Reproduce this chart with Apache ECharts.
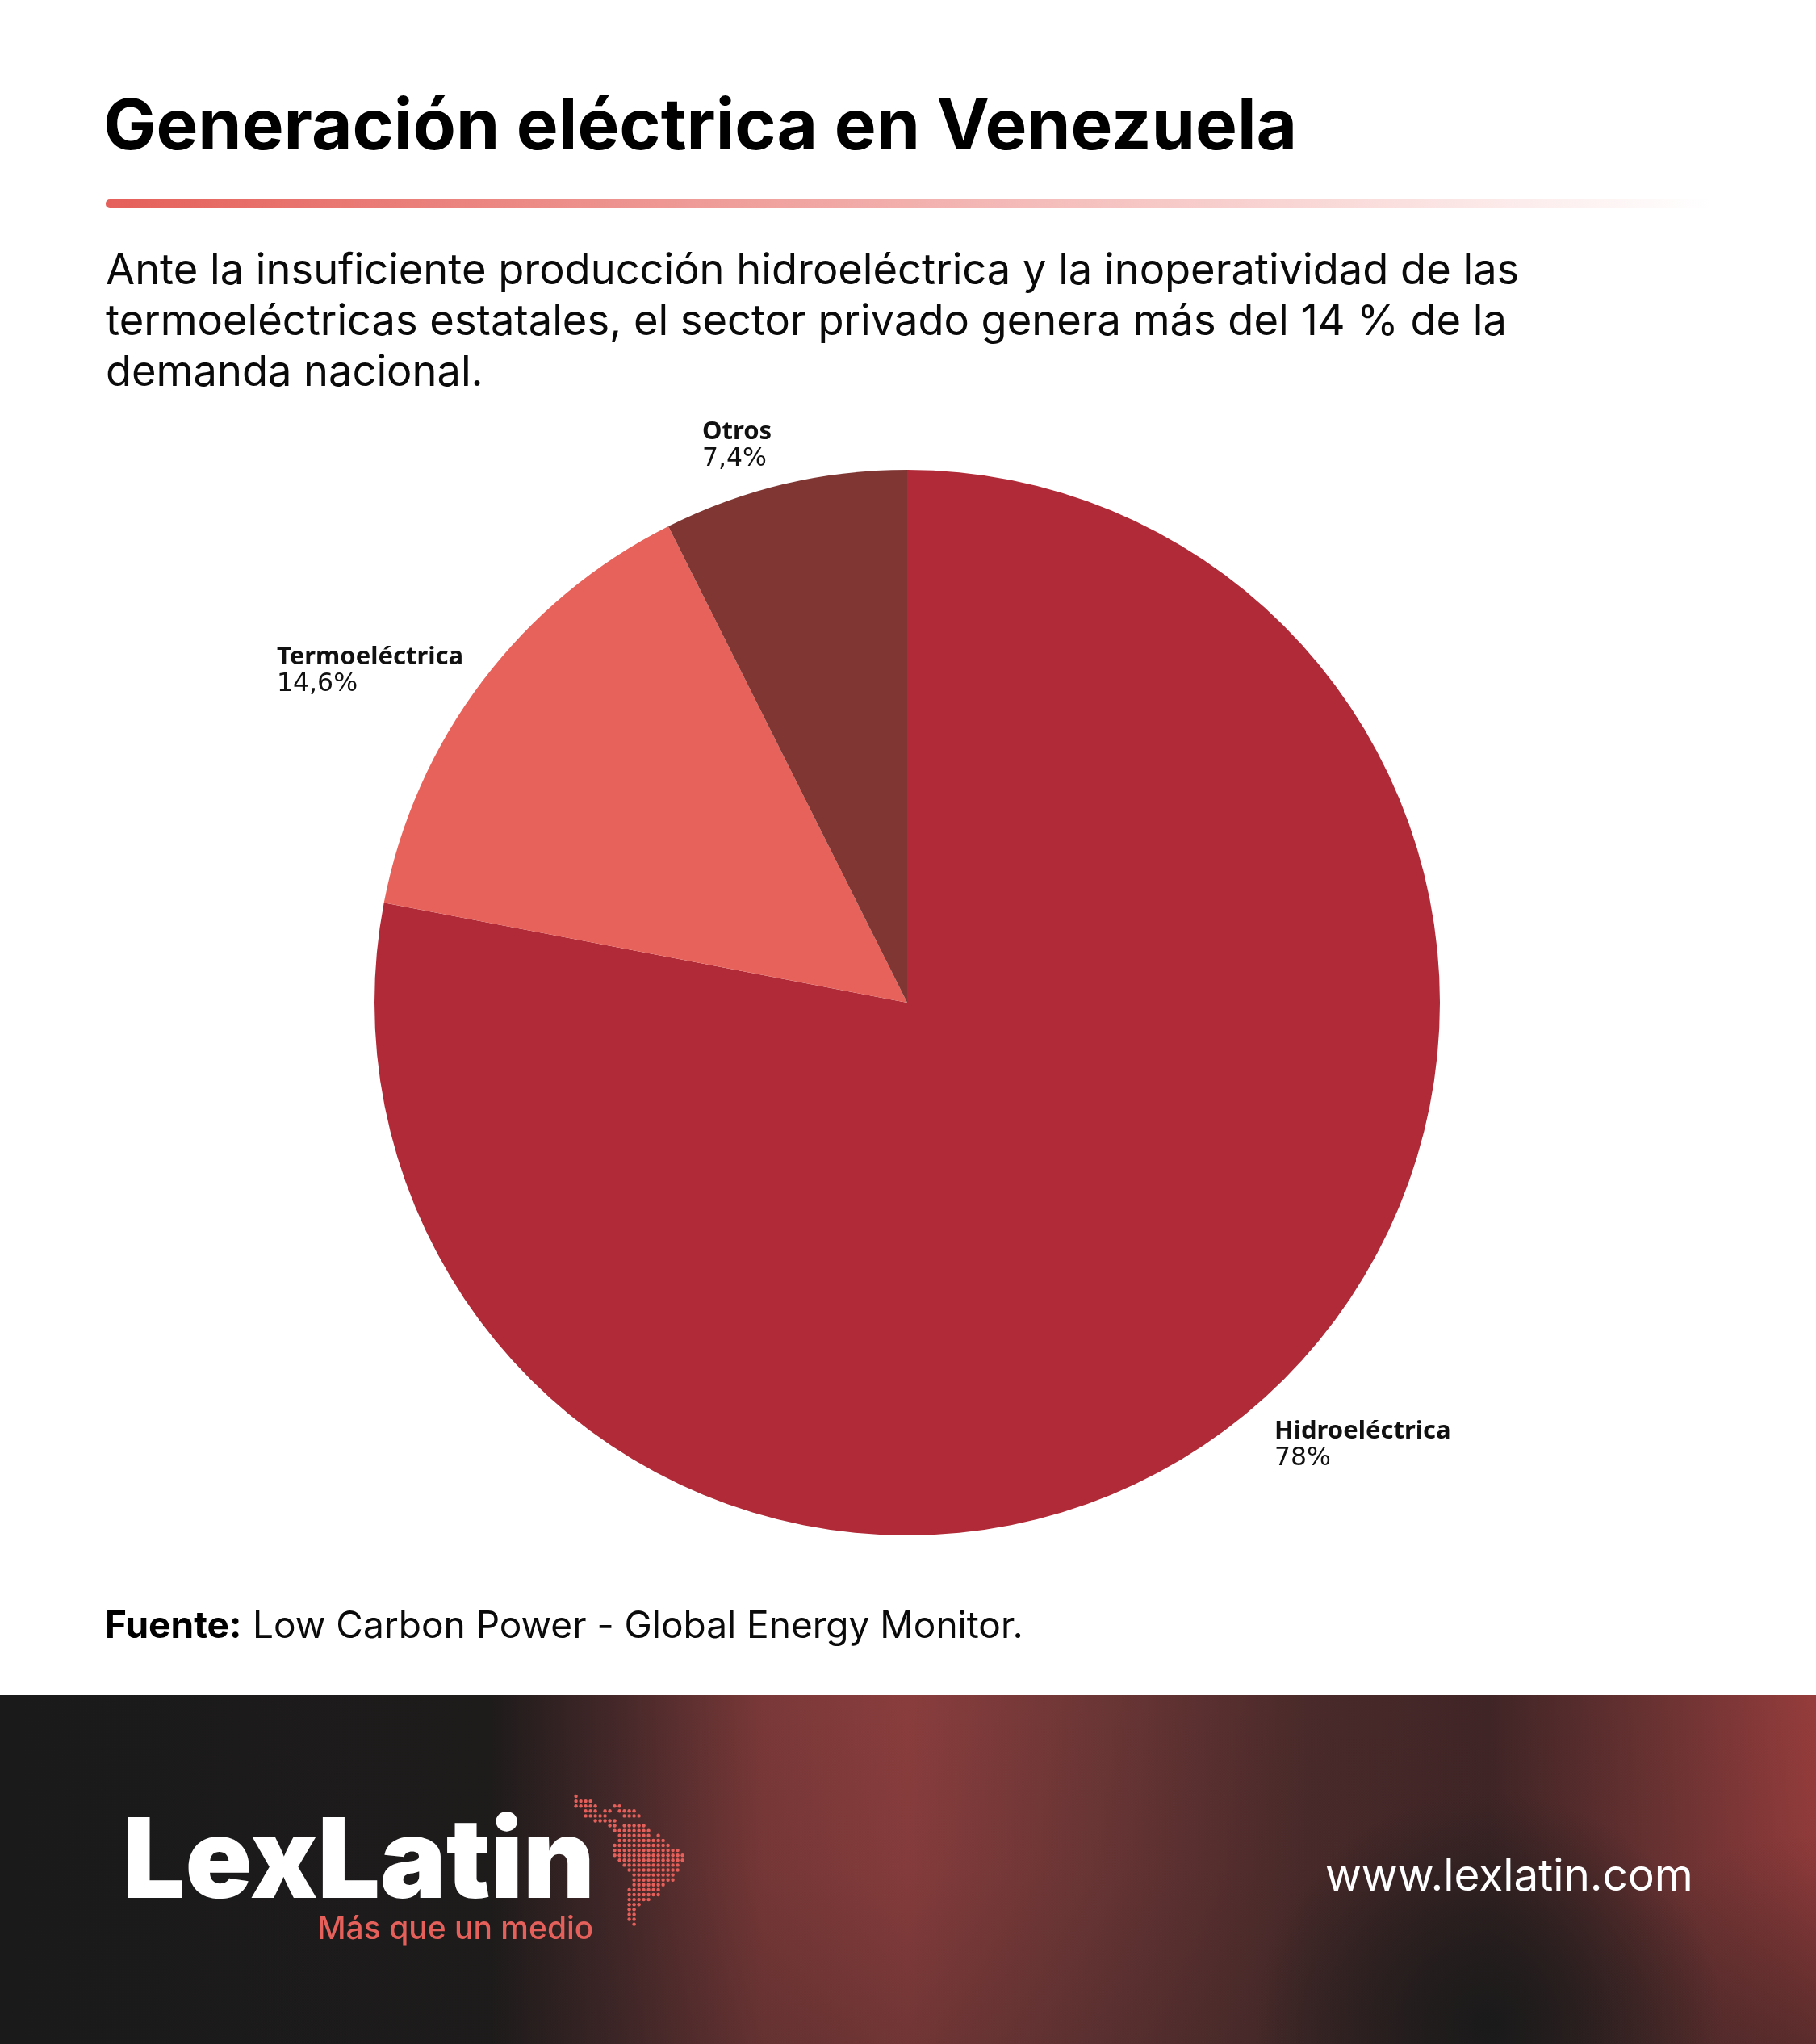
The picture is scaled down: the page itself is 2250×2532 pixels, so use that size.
<!DOCTYPE html>
<html><head><meta charset="utf-8">
<style>html,body{margin:0;padding:0;background:#fff}#c{width:2250px;height:2532px}</style>
<script src="https://cdn.jsdelivr.net/npm/echarts@6/dist/echarts.min.js"></script>
</head><body><div id="c"></div>
<script>
const categories = ['Hidroeléctrica','Termoeléctrica','Otros'];
const shares = [78, 14.6, 7.4];
const shareLabels = ['78%','14,6%','7,4%'];
const sliceColors = ['#B02A37','#E6625A','#803734'];
const labelAnchors = [[1579,1757],[343,798],[870,519]];
const titleText = 'Generación eléctrica en Venezuela';
const subtitleLines = ['Ante la insuficiente producción hidroeléctrica y la inoperatividad de las','termoeléctricas estatales, el sector privado genera más del 14 % de la','demanda nacional.'];
const mapRows = [[[0,0]],[[0,3]],[[0,4],[8,9]],[[2,4],[6,7],[9,12]],[[2,6],[10,13]],[[4,8]],[[7,8],[10,14]],[[8,15]],[[9,15],[17,17]],[[9,18]],[[8,19]],[[8,21]],[[8,22]],[[9,22]],[[10,21]],[[11,21]],[[12,20]],[[12,20]],[[12,18]],[[11,17]],[[11,17]],[[11,15]],[[11,13]],[[11,12]],[[11,12]],[[11,12]],[[12,12]]];

const chart = echarts.init(document.getElementById('c'), null, {renderer:'canvas', width:2250, height:2532, devicePixelRatio:1});
const G = echarts.graphic;
const sans = 'Inter';
const txt = (x,y,text,size,weight,fill,extra) => ({type:'text',x,y,z:10,style:Object.assign({text,fontFamily:sans,fontSize:size,fontWeight:weight,fill},extra||{})});
const elems = [];
elems.push({type:'rect',shape:{x:131,y:247,width:1990,height:11,r:5},z:1,style:{fill:new G.LinearGradient(0,0,1,0,[{offset:0,color:'#E5605A'},{offset:1,color:'rgba(229,96,90,0)'}])}});
subtitleLines.forEach((t,i)=>elems.push(txt(131,310+i*63,t,52.4,400,'#0a0a0a')));
elems.push(txt(130,1992,'Fuente:',46,700,'#000'));
elems.push(txt(313,1992,'Low Carbon Power - Global Energy Monitor.',46,400,'#0a0a0a'));
elems.push({type:'rect',shape:{x:0,y:2100,width:2250,height:432},z:1,style:{fill:new G.LinearGradient(0,0,1,0,[
 {offset:0,color:'#1A1A1A'},{offset:0.27,color:'#1E1B1B'},{offset:0.34,color:'#452829'},{offset:0.42,color:'#7A3838'},{offset:0.5,color:'#8A3D3D'},{offset:0.6,color:'#6D3636'},{offset:0.72,color:'#4A2A2A'},{offset:0.82,color:'#402526'},{offset:0.92,color:'#6E3333'},{offset:1,color:'#963C3C'}])}});
elems.push({type:'rect',shape:{x:0,y:2100,width:2250,height:432},z:2,style:{fill:new G.LinearGradient(0,0,0,1,[{offset:0,color:'rgba(26,26,26,0)'},{offset:0.5,color:'rgba(26,26,26,0.05)'},{offset:1,color:'rgba(26,26,26,0.22)'}])}});
elems.push({type:'rect',shape:{x:1300,y:2100,width:950,height:432},z:3,style:{fill:new G.RadialGradient(1845,2510,290,[{offset:0,color:'rgba(26,26,26,1)'},{offset:0.35,color:'rgba(26,26,26,0.7)'},{offset:1,color:'rgba(26,26,26,0)'}],true)}});
elems.push({type:'rect',shape:{x:1800,y:2100,width:450,height:432},z:3,style:{fill:new G.RadialGradient(2250,2600,330,[{offset:0,color:'rgba(26,26,26,0.4)'},{offset:1,color:'rgba(26,26,26,0)'}],true)}});
elems.push(txt(152,2241,'LexLatin',137,900,'#fff'));
elems.push(txt(393,2371,'Más que un medio',39,500,'#E5605A'));
elems.push(txt(1642,2298,'www.lexlatin.com',54.8,400,'#fff'));
mapRows.forEach((segs,r)=>segs.forEach(([a,b])=>{for(let c=a;c<=b;c++)elems.push({type:'circle',z:10,silent:true,shape:{cx:713.6+c*6,cy:2225+r*6.1,r:2.2},style:{fill:'#E5605A'}});}));

chart.setOption({
 animation:false,
 backgroundColor:'#fff',
 title:{text:titleText,left:123,top:110,textStyle:{fontFamily:sans,fontSize:87.2,fontWeight:700,color:'#000'}},
 graphic:{elements:elems},
 series:[{
  type:'pie',center:[1124,1242],radius:[0,660],startAngle:90,clockwise:true,silent:true,
  data:categories.map((n,i)=>({name:n,value:shares[i],itemStyle:{color:sliceColors[i]}})),
  label:{show:true,position:'outside',formatter:p=>`{b|${p.name}}\n{v|${shareLabels[p.dataIndex]}}`,
   rich:{b:{fontFamily:'Noto Sans',fontSize:31,fontWeight:700,color:'#111',lineHeight:33,align:'left'},v:{fontFamily:'DejaVu Sans',fontSize:31.5,fontWeight:400,color:'#111',lineHeight:34,align:'left'}}},
  labelLine:{show:false},
  labelLayout:p=>({x:labelAnchors[p.dataIndex][0],y:labelAnchors[p.dataIndex][1],align:'left',verticalAlign:'top'})
 }]
});
</script></body></html>
